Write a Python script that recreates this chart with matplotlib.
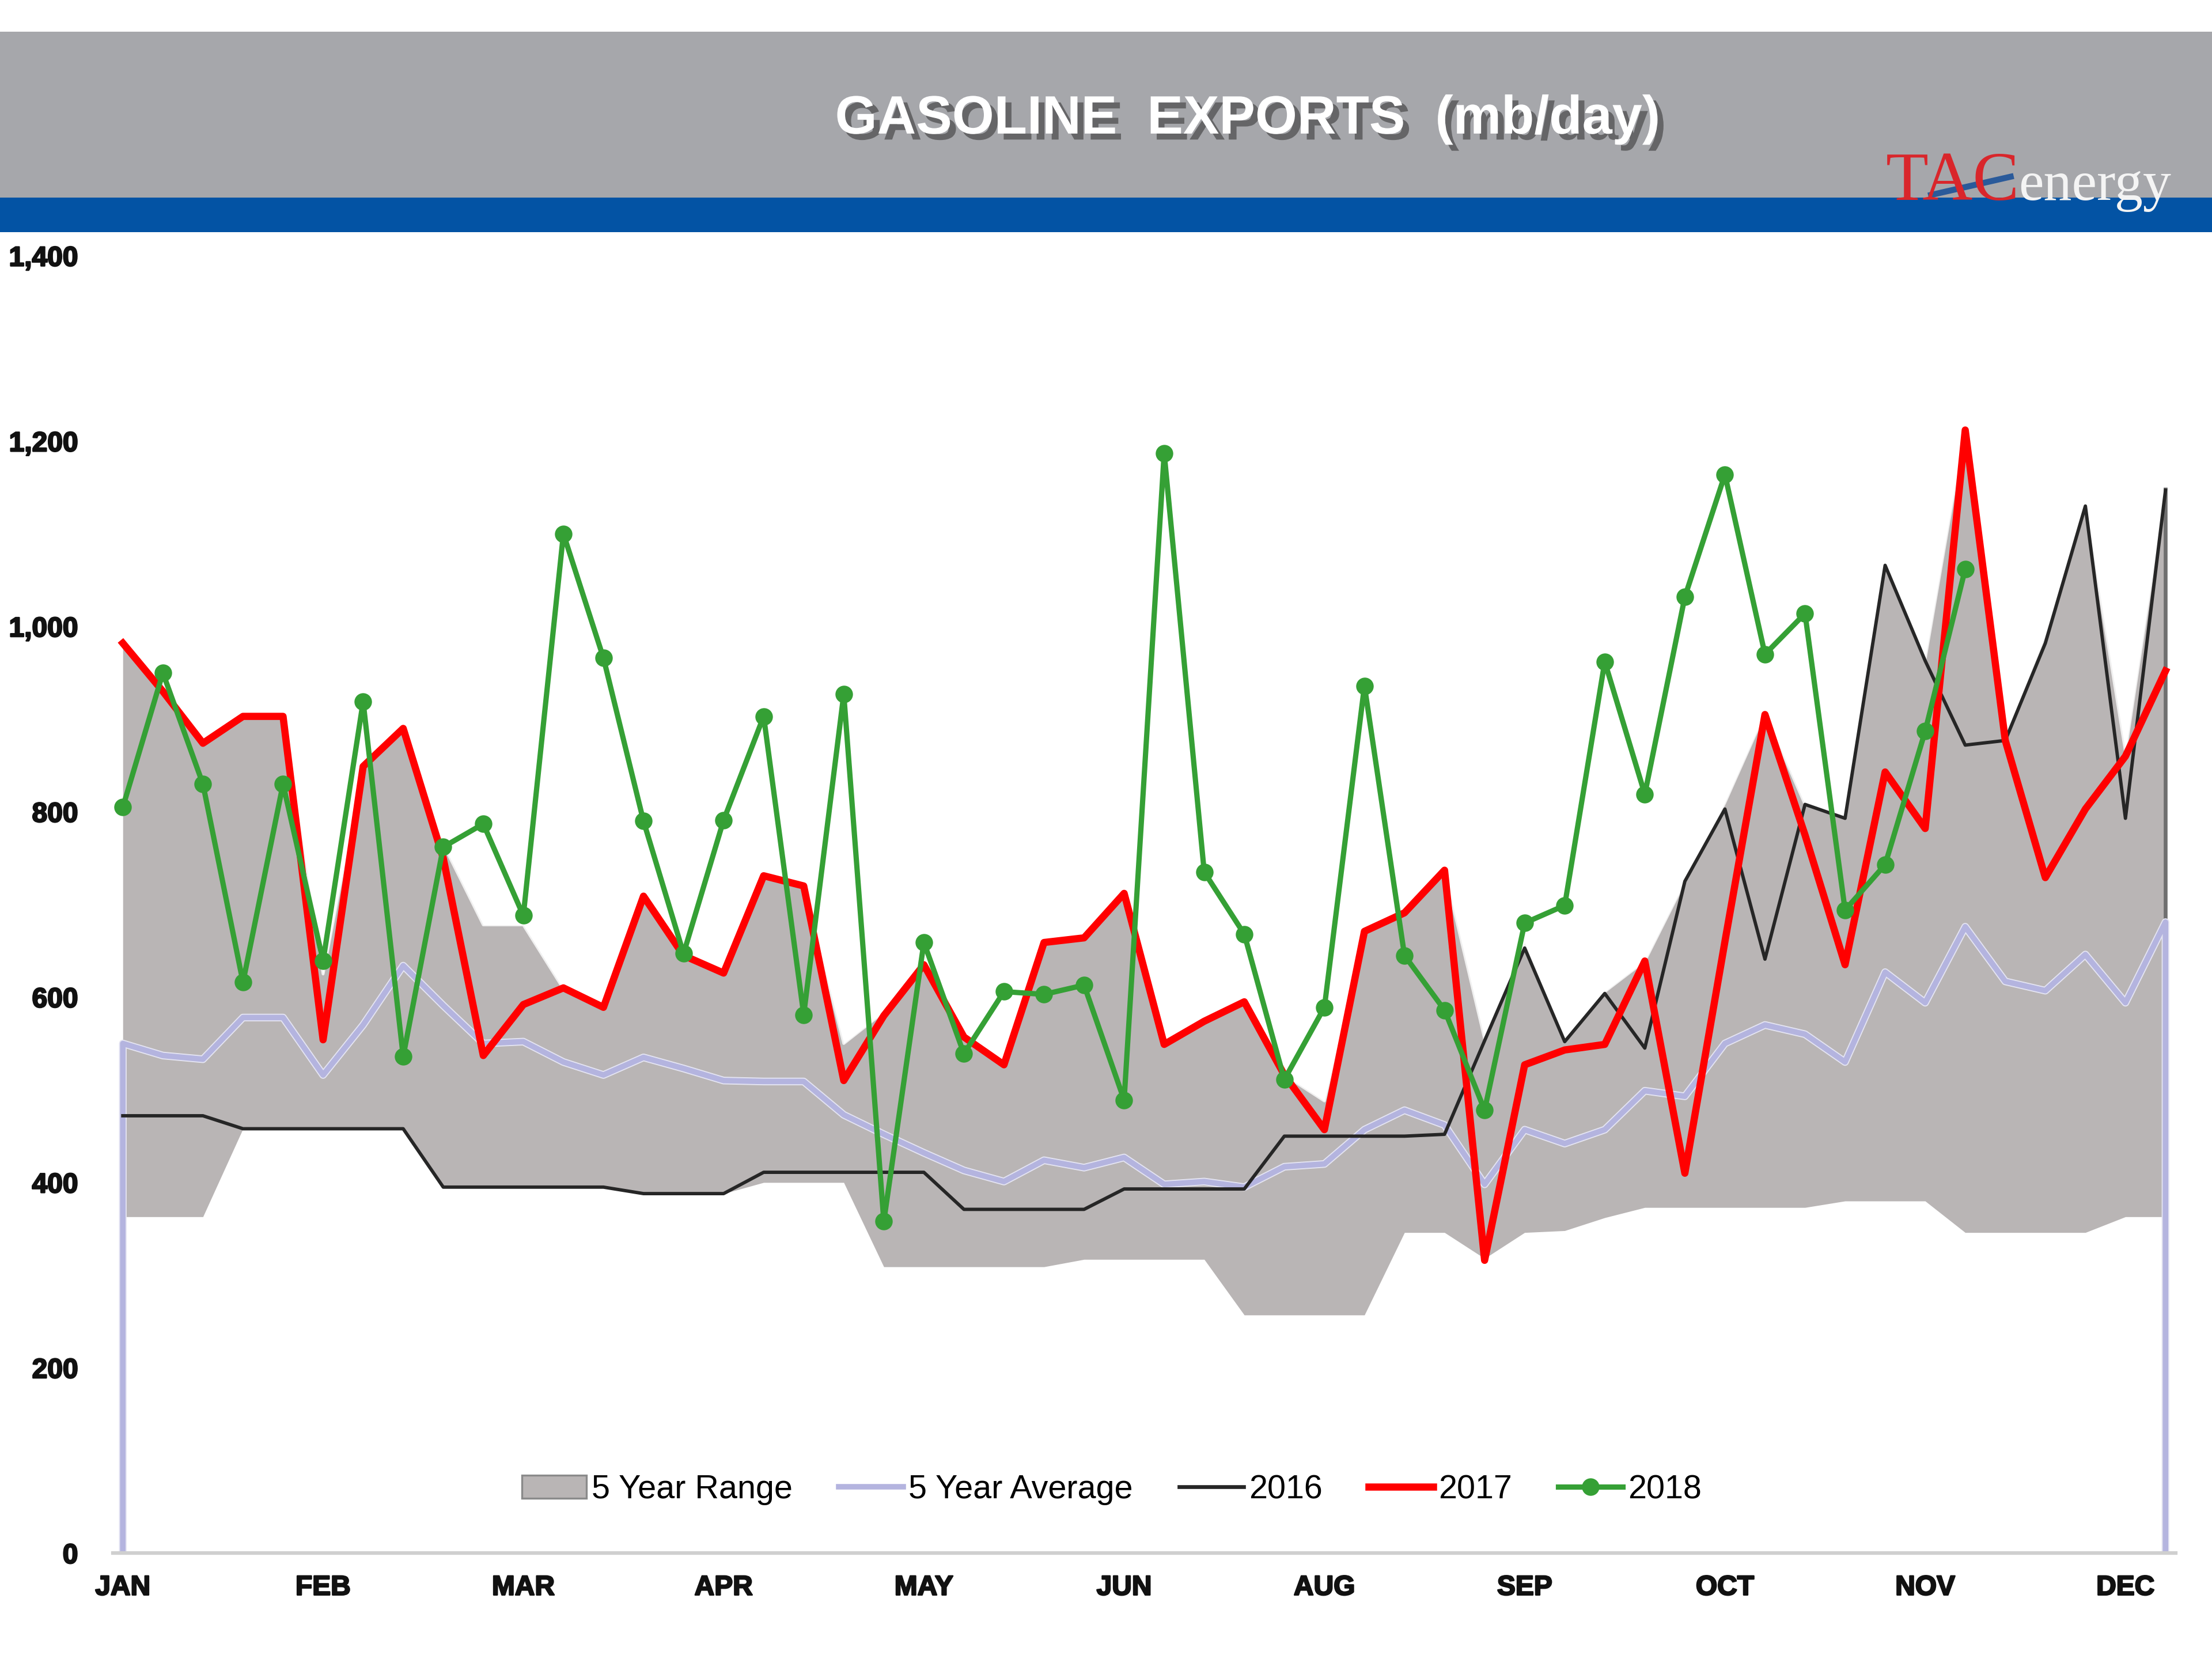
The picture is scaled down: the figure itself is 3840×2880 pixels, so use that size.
import numpy as np
import matplotlib
matplotlib.use("Agg")
import matplotlib.pyplot as plt
import matplotlib.patheffects as pe
from matplotlib.patches import Rectangle, Patch
from matplotlib.lines import Line2D

# ---------------- data ----------------
month_labels = ["JAN", "FEB", "MAR", "APR", "MAY", "JUN", "AUG", "SEP", "OCT", "NOV", "DEC"]
month_ticks = [0, 5, 10, 15, 20, 25, 30, 35, 40, 45, 50]
weeks = np.arange(52)

range_max = [982, 930, 874, 903, 903, 625, 849, 890, 765, 678,
             678, 609, 589, 709, 645, 626, 731, 720, 550, 584,
             638, 557, 527, 659, 664, 712, 550, 574, 595, 516,
             488, 671, 691, 737, 555, 659, 552, 606, 639, 725,
             810, 907, 808, 796, 1068, 965, 1215, 881, 991, 1132, 865, 1150]
range_min = [363, 363, 363, 458, 458, 458, 458, 458, 395, 395,
             395, 395, 395, 388, 388, 388, 400, 400, 400, 309,
             309, 309, 309, 309, 317, 317, 317, 317, 257, 257,
             257, 257, 346, 346, 318, 346, 348, 362, 373, 373,
             373, 373, 373, 380, 380, 380, 346, 346, 346, 346, 363, 363]
avg_5yr = [550, 537, 533, 578, 578, 516, 570, 634, 591, 550,
           552, 530, 516, 535, 523, 510, 509, 509, 473, 452,
           432, 413, 401, 424, 416, 427, 398, 401, 395, 417,
           420, 457, 478, 462, 398, 457, 442, 457, 499, 493,
           550, 570, 560, 530, 627, 594, 676, 617, 607, 646, 594, 681]
y2016 = [472, 472, 472, 458, 458, 458, 458, 458, 395, 395,
         395, 395, 395, 388, 388, 388, 411, 411, 411, 411,
         411, 371, 371, 371, 371, 393, 393, 393, 393, 450,
         450, 450, 450, 452, 553, 653, 552, 604, 545, 725,
         803, 641, 808, 793, 1066, 963, 872, 877, 982, 1130, 793, 1147]
y2017 = [982, 930, 874, 903, 903, 554, 849, 890, 750, 537,
         592, 610, 589, 709, 645, 626, 731, 720, 510, 580,
         635, 557, 527, 659, 664, 712, 549, 574, 595, 516,
         457, 671, 691, 737, 316, 527, 543, 549, 639, 410,
         660, 905, 775, 635, 843, 782, 1212, 877, 729, 803, 860, 952]
y2018 = [805, 950, 830, 616, 830, 639, 919, 536, 762, 787,
         688, 1100, 966, 790, 647, 791, 903, 581, 927, 358,
         659, 539, 606, 603, 613, 489, 1187, 735, 668, 511,
         589, 936, 645, 586, 478, 680, 699, 962, 819, 1032,
         1164, 970, 1014, 694, 743, 887, 1062]

yticks = [0, 200, 400, 600, 800, 1000, 1200, 1400]
ytick_labels = ["0", "200", "400", "600", "800", "1,000", "1,200", "1,400"]

title = "GASOLINE  EXPORTS  (mb/day)"

# ---------------- colours ----------------
C_RANGE = "#b9b5b5"
C_AVG = "#b4b4df"
C_2016 = "#262626"
C_2017 = "#ff0000"
C_2018 = "#35a035"

fig = plt.figure(figsize=(12.8, 9.6), dpi=300)
fig.patch.set_facecolor("white")

# header bands
fig.patches.append(Rectangle((0, 0.881), 1, 0.100, transform=fig.transFigure,
                             facecolor="#a6a7ab", edgecolor="none", zorder=0))
fig.patches.append(Rectangle((0, 0.860), 1, 0.021, transform=fig.transFigure,
                             facecolor="#0353a4", edgecolor="none", zorder=0))

fig.text(0.564, 0.928, title, ha="center", va="center", fontsize=22.5,
         fontweight="bold", color="white", family=["Liberation Sans", "DejaVu Sans"],
         path_effects=[pe.withSimplePatchShadow(offset=(2.5, -2.5), shadow_rgbFace="#4a4a4a", alpha=0.7)])

# logo
fig.text(0.8525, 0.8795, "TAC", ha="left", va="baseline", fontsize=29,
         color="#d9262b", family=["Liberation Serif", "DejaVu Serif"])
fig.text(0.9125, 0.8795, "energy", ha="left", va="baseline", fontsize=23.5,
         color="#f4f4f4", family=["Liberation Serif", "DejaVu Serif"])
fig.lines.append(Line2D([0.873, 0.909], [0.8825, 0.8935], transform=fig.transFigure,
                        color="#2a5a9a", lw=2.5))

# ---------------- axes ----------------
ax = fig.add_axes([0.051, 0.0638, 0.9325, 0.782])
ax.set_xlim(-0.25, 51.25)
ax.set_ylim(0, 1400)

ax.fill_between(weeks, range_min, range_max, color=C_RANGE, lw=0, zorder=1)
ax.plot(weeks, range_max, color="white", lw=1.2, alpha=0.8, zorder=1.5)
ax.vlines(weeks[-1], range_min[-1], range_max[-1], color="#6f6f6f", lw=1.6, zorder=1.6)

avg_x = np.concatenate([[weeks[0]], weeks, [weeks[-1]]])
avg_y = np.concatenate([[0], avg_5yr, [0]])
ax.plot(avg_x, avg_y, color=C_AVG, lw=2.3, zorder=2,
        path_effects=[pe.Stroke(linewidth=3.2, foreground="#e4e4f2"), pe.Normal()])
ax.plot(weeks, y2016, color=C_2016, lw=1.4, zorder=3)
ax.plot(weeks, y2017, color=C_2017, lw=3.0, zorder=4)
ax.plot(weeks[:len(y2018)], y2018, color=C_2018, lw=2.2, marker="o", ms=6.3, zorder=5)

for s in ["top", "right", "left"]:
    ax.spines[s].set_visible(False)
ax.spines["bottom"].set_color("#cfcfcf")
ax.spines["bottom"].set_linewidth(1.5)

ax.set_yticks(yticks)
ax.set_yticklabels(ytick_labels)
ax.set_xticks(month_ticks)
ax.set_xticklabels(month_labels)
ax.tick_params(axis="y", length=0, pad=14.5)
ax.tick_params(axis="x", length=0, pad=9)
for lab in ax.get_xticklabels() + ax.get_yticklabels():
    lab.set_fontfamily(["Liberation Sans", "DejaVu Sans"])
    lab.set_fontweight("bold")
    lab.set_fontsize(11.5)
    lab.set_color("#111111")
    lab.set_path_effects([pe.withStroke(linewidth=0.6, foreground="#111111")])

# legend
handles = [
    Patch(facecolor=C_RANGE, edgecolor="#8a8a8a", lw=0.8),
    Line2D([], [], color=C_AVG, lw=2.3),
    Line2D([], [], color=C_2016, lw=1.6),
    Line2D([], [], color=C_2017, lw=3.0),
    Line2D([], [], color=C_2018, lw=2.2, marker="o", ms=6.3),
]
labels = ["5 Year Range", "5 Year Average", "2016", "2017", "2018"]
fig.legend(handles, labels, loc="center", bbox_to_anchor=(0.5026, 0.102), ncol=5,
           frameon=False, handlelength=1.95, handletextpad=0.15, columnspacing=1.4,
           prop={"family": ["Liberation Sans", "DejaVu Sans"], "size": 13.8})

fig.savefig("out.png", dpi=300, facecolor="white")
